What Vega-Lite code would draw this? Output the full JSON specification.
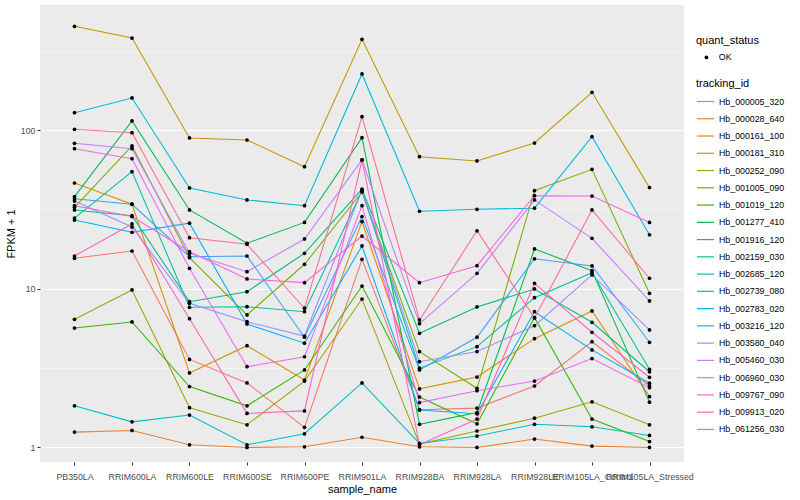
{
  "$schema": "https://vega.github.io/schema/vega-lite/v6.json",
  "width": 644,
  "height": 457,
  "autosize": {"type": "none"},
  "padding": {"left": 40, "top": 5, "right": 116, "bottom": 38},
  "background": "white",
  "config": {
    "font": "Liberation Sans",
    "view": {"fill": "#EBEBEB", "stroke": null},
    "axis": {
      "gridColor": "white", "gridWidth": 1.07, "domain": false,
      "tickColor": "#333333", "tickSize": 3, "tickWidth": 1,
      "labelColor": "#4D4D4D", "labelFontSize": 8.8, "labelFont": "Liberation Sans",
      "titleFontSize": 11, "titleFontWeight": "normal", "titleColor": "black", "titleFont": "Liberation Sans"
    },
    "legend": {
      "labelFontSize": 8.8, "titleFontSize": 11, "titleFontWeight": "normal",
      "labelColor": "black", "titleColor": "black", "labelFont": "Liberation Sans", "titleFont": "Liberation Sans"
    }
  },
  "data": {"values": [
    {"tracking_id":"Hb_000005_320","sample_name":"PB350LA","fpkm":15.57,"quant_status":"OK"},
    {"tracking_id":"Hb_000005_320","sample_name":"RRIM600LA","fpkm":17.30,"quant_status":"OK"},
    {"tracking_id":"Hb_000005_320","sample_name":"RRIM600LE","fpkm":3.59,"quant_status":"OK"},
    {"tracking_id":"Hb_000005_320","sample_name":"RRIM600SE","fpkm":2.55,"quant_status":"OK"},
    {"tracking_id":"Hb_000005_320","sample_name":"RRIM600PE","fpkm":1.34,"quant_status":"OK"},
    {"tracking_id":"Hb_000005_320","sample_name":"RRIM901LA","fpkm":15.34,"quant_status":"OK"},
    {"tracking_id":"Hb_000005_320","sample_name":"RRIM928BA","fpkm":1.73,"quant_status":"OK"},
    {"tracking_id":"Hb_000005_320","sample_name":"RRIM928LA","fpkm":1.77,"quant_status":"OK"},
    {"tracking_id":"Hb_000005_320","sample_name":"RRIM928LE","fpkm":2.44,"quant_status":"OK"},
    {"tracking_id":"Hb_000005_320","sample_name":"RRIM105LA_Control","fpkm":4.64,"quant_status":"OK"},
    {"tracking_id":"Hb_000005_320","sample_name":"RRIM105LA_Stressed","fpkm":2.44,"quant_status":"OK"},

    {"tracking_id":"Hb_000028_640","sample_name":"PB350LA","fpkm":1.25,"quant_status":"OK"},
    {"tracking_id":"Hb_000028_640","sample_name":"RRIM600LA","fpkm":1.28,"quant_status":"OK"},
    {"tracking_id":"Hb_000028_640","sample_name":"RRIM600LE","fpkm":1.04,"quant_status":"OK"},
    {"tracking_id":"Hb_000028_640","sample_name":"RRIM600SE","fpkm":1.0,"quant_status":"OK"},
    {"tracking_id":"Hb_000028_640","sample_name":"RRIM600PE","fpkm":1.01,"quant_status":"OK"},
    {"tracking_id":"Hb_000028_640","sample_name":"RRIM901LA","fpkm":1.16,"quant_status":"OK"},
    {"tracking_id":"Hb_000028_640","sample_name":"RRIM928BA","fpkm":1.01,"quant_status":"OK"},
    {"tracking_id":"Hb_000028_640","sample_name":"RRIM928LA","fpkm":1.0,"quant_status":"OK"},
    {"tracking_id":"Hb_000028_640","sample_name":"RRIM928LE","fpkm":1.13,"quant_status":"OK"},
    {"tracking_id":"Hb_000028_640","sample_name":"RRIM105LA_Control","fpkm":1.02,"quant_status":"OK"},
    {"tracking_id":"Hb_000028_640","sample_name":"RRIM105LA_Stressed","fpkm":1.0,"quant_status":"OK"},

    {"tracking_id":"Hb_000161_100","sample_name":"PB350LA","fpkm":46.4,"quant_status":"OK"},
    {"tracking_id":"Hb_000161_100","sample_name":"RRIM600LA","fpkm":34.1,"quant_status":"OK"},
    {"tracking_id":"Hb_000161_100","sample_name":"RRIM600LE","fpkm":2.95,"quant_status":"OK"},
    {"tracking_id":"Hb_000161_100","sample_name":"RRIM600SE","fpkm":4.38,"quant_status":"OK"},
    {"tracking_id":"Hb_000161_100","sample_name":"RRIM600PE","fpkm":2.66,"quant_status":"OK"},
    {"tracking_id":"Hb_000161_100","sample_name":"RRIM901LA","fpkm":26.5,"quant_status":"OK"},
    {"tracking_id":"Hb_000161_100","sample_name":"RRIM928BA","fpkm":2.34,"quant_status":"OK"},
    {"tracking_id":"Hb_000161_100","sample_name":"RRIM928LA","fpkm":2.78,"quant_status":"OK"},
    {"tracking_id":"Hb_000161_100","sample_name":"RRIM928LE","fpkm":4.85,"quant_status":"OK"},
    {"tracking_id":"Hb_000161_100","sample_name":"RRIM105LA_Control","fpkm":7.25,"quant_status":"OK"},
    {"tracking_id":"Hb_000161_100","sample_name":"RRIM105LA_Stressed","fpkm":2.09,"quant_status":"OK"},

    {"tracking_id":"Hb_000181_310","sample_name":"PB350LA","fpkm":451,"quant_status":"OK"},
    {"tracking_id":"Hb_000181_310","sample_name":"RRIM600LA","fpkm":380,"quant_status":"OK"},
    {"tracking_id":"Hb_000181_310","sample_name":"RRIM600LE","fpkm":89.2,"quant_status":"OK"},
    {"tracking_id":"Hb_000181_310","sample_name":"RRIM600SE","fpkm":86.6,"quant_status":"OK"},
    {"tracking_id":"Hb_000181_310","sample_name":"RRIM600PE","fpkm":58.8,"quant_status":"OK"},
    {"tracking_id":"Hb_000181_310","sample_name":"RRIM901LA","fpkm":373,"quant_status":"OK"},
    {"tracking_id":"Hb_000181_310","sample_name":"RRIM928BA","fpkm":68.0,"quant_status":"OK"},
    {"tracking_id":"Hb_000181_310","sample_name":"RRIM928LA","fpkm":63.9,"quant_status":"OK"},
    {"tracking_id":"Hb_000181_310","sample_name":"RRIM928LE","fpkm":82.9,"quant_status":"OK"},
    {"tracking_id":"Hb_000181_310","sample_name":"RRIM105LA_Control","fpkm":173,"quant_status":"OK"},
    {"tracking_id":"Hb_000181_310","sample_name":"RRIM105LA_Stressed","fpkm":43.4,"quant_status":"OK"},

    {"tracking_id":"Hb_000252_090","sample_name":"PB350LA","fpkm":6.42,"quant_status":"OK"},
    {"tracking_id":"Hb_000252_090","sample_name":"RRIM600LA","fpkm":9.83,"quant_status":"OK"},
    {"tracking_id":"Hb_000252_090","sample_name":"RRIM600LE","fpkm":1.78,"quant_status":"OK"},
    {"tracking_id":"Hb_000252_090","sample_name":"RRIM600SE","fpkm":1.39,"quant_status":"OK"},
    {"tracking_id":"Hb_000252_090","sample_name":"RRIM600PE","fpkm":2.62,"quant_status":"OK"},
    {"tracking_id":"Hb_000252_090","sample_name":"RRIM901LA","fpkm":8.62,"quant_status":"OK"},
    {"tracking_id":"Hb_000252_090","sample_name":"RRIM928BA","fpkm":1.05,"quant_status":"OK"},
    {"tracking_id":"Hb_000252_090","sample_name":"RRIM928LA","fpkm":1.27,"quant_status":"OK"},
    {"tracking_id":"Hb_000252_090","sample_name":"RRIM928LE","fpkm":1.53,"quant_status":"OK"},
    {"tracking_id":"Hb_000252_090","sample_name":"RRIM105LA_Control","fpkm":1.94,"quant_status":"OK"},
    {"tracking_id":"Hb_000252_090","sample_name":"RRIM105LA_Stressed","fpkm":1.39,"quant_status":"OK"},

    {"tracking_id":"Hb_001005_090","sample_name":"PB350LA","fpkm":32.6,"quant_status":"OK"},
    {"tracking_id":"Hb_001005_090","sample_name":"RRIM600LA","fpkm":79.4,"quant_status":"OK"},
    {"tracking_id":"Hb_001005_090","sample_name":"RRIM600LE","fpkm":15.7,"quant_status":"OK"},
    {"tracking_id":"Hb_001005_090","sample_name":"RRIM600SE","fpkm":6.84,"quant_status":"OK"},
    {"tracking_id":"Hb_001005_090","sample_name":"RRIM600PE","fpkm":14.27,"quant_status":"OK"},
    {"tracking_id":"Hb_001005_090","sample_name":"RRIM901LA","fpkm":40.7,"quant_status":"OK"},
    {"tracking_id":"Hb_001005_090","sample_name":"RRIM928BA","fpkm":4.02,"quant_status":"OK"},
    {"tracking_id":"Hb_001005_090","sample_name":"RRIM928LA","fpkm":2.36,"quant_status":"OK"},
    {"tracking_id":"Hb_001005_090","sample_name":"RRIM928LE","fpkm":41.5,"quant_status":"OK"},
    {"tracking_id":"Hb_001005_090","sample_name":"RRIM105LA_Control","fpkm":56.6,"quant_status":"OK"},
    {"tracking_id":"Hb_001005_090","sample_name":"RRIM105LA_Stressed","fpkm":9.37,"quant_status":"OK"},

    {"tracking_id":"Hb_001019_120","sample_name":"PB350LA","fpkm":5.66,"quant_status":"OK"},
    {"tracking_id":"Hb_001019_120","sample_name":"RRIM600LA","fpkm":6.18,"quant_status":"OK"},
    {"tracking_id":"Hb_001019_120","sample_name":"RRIM600LE","fpkm":2.42,"quant_status":"OK"},
    {"tracking_id":"Hb_001019_120","sample_name":"RRIM600SE","fpkm":1.83,"quant_status":"OK"},
    {"tracking_id":"Hb_001019_120","sample_name":"RRIM600PE","fpkm":3.08,"quant_status":"OK"},
    {"tracking_id":"Hb_001019_120","sample_name":"RRIM901LA","fpkm":10.41,"quant_status":"OK"},
    {"tracking_id":"Hb_001019_120","sample_name":"RRIM928BA","fpkm":2.08,"quant_status":"OK"},
    {"tracking_id":"Hb_001019_120","sample_name":"RRIM928LA","fpkm":1.41,"quant_status":"OK"},
    {"tracking_id":"Hb_001019_120","sample_name":"RRIM928LE","fpkm":6.58,"quant_status":"OK"},
    {"tracking_id":"Hb_001019_120","sample_name":"RRIM105LA_Control","fpkm":1.51,"quant_status":"OK"},
    {"tracking_id":"Hb_001019_120","sample_name":"RRIM105LA_Stressed","fpkm":1.09,"quant_status":"OK"},

    {"tracking_id":"Hb_001277_410","sample_name":"PB350LA","fpkm":38.1,"quant_status":"OK"},
    {"tracking_id":"Hb_001277_410","sample_name":"RRIM600LA","fpkm":114.1,"quant_status":"OK"},
    {"tracking_id":"Hb_001277_410","sample_name":"RRIM600LE","fpkm":31.4,"quant_status":"OK"},
    {"tracking_id":"Hb_001277_410","sample_name":"RRIM600SE","fpkm":19.35,"quant_status":"OK"},
    {"tracking_id":"Hb_001277_410","sample_name":"RRIM600PE","fpkm":26.2,"quant_status":"OK"},
    {"tracking_id":"Hb_001277_410","sample_name":"RRIM901LA","fpkm":89.6,"quant_status":"OK"},
    {"tracking_id":"Hb_001277_410","sample_name":"RRIM928BA","fpkm":1.40,"quant_status":"OK"},
    {"tracking_id":"Hb_001277_410","sample_name":"RRIM928LA","fpkm":1.66,"quant_status":"OK"},
    {"tracking_id":"Hb_001277_410","sample_name":"RRIM928LE","fpkm":17.82,"quant_status":"OK"},
    {"tracking_id":"Hb_001277_410","sample_name":"RRIM105LA_Control","fpkm":13.01,"quant_status":"OK"},
    {"tracking_id":"Hb_001277_410","sample_name":"RRIM105LA_Stressed","fpkm":1.93,"quant_status":"OK"},

    {"tracking_id":"Hb_001916_120","sample_name":"PB350LA","fpkm":31.4,"quant_status":"OK"},
    {"tracking_id":"Hb_001916_120","sample_name":"RRIM600LA","fpkm":28.9,"quant_status":"OK"},
    {"tracking_id":"Hb_001916_120","sample_name":"RRIM600LE","fpkm":8.29,"quant_status":"OK"},
    {"tracking_id":"Hb_001916_120","sample_name":"RRIM600SE","fpkm":9.59,"quant_status":"OK"},
    {"tracking_id":"Hb_001916_120","sample_name":"RRIM600PE","fpkm":16.74,"quant_status":"OK"},
    {"tracking_id":"Hb_001916_120","sample_name":"RRIM901LA","fpkm":42.5,"quant_status":"OK"},
    {"tracking_id":"Hb_001916_120","sample_name":"RRIM928BA","fpkm":5.24,"quant_status":"OK"},
    {"tracking_id":"Hb_001916_120","sample_name":"RRIM928LA","fpkm":7.68,"quant_status":"OK"},
    {"tracking_id":"Hb_001916_120","sample_name":"RRIM928LE","fpkm":9.97,"quant_status":"OK"},
    {"tracking_id":"Hb_001916_120","sample_name":"RRIM105LA_Control","fpkm":6.15,"quant_status":"OK"},
    {"tracking_id":"Hb_001916_120","sample_name":"RRIM105LA_Stressed","fpkm":3.00,"quant_status":"OK"},

    {"tracking_id":"Hb_002159_030","sample_name":"PB350LA","fpkm":27.9,"quant_status":"OK"},
    {"tracking_id":"Hb_002159_030","sample_name":"RRIM600LA","fpkm":54.7,"quant_status":"OK"},
    {"tracking_id":"Hb_002159_030","sample_name":"RRIM600LE","fpkm":7.64,"quant_status":"OK"},
    {"tracking_id":"Hb_002159_030","sample_name":"RRIM600SE","fpkm":7.71,"quant_status":"OK"},
    {"tracking_id":"Hb_002159_030","sample_name":"RRIM600PE","fpkm":7.17,"quant_status":"OK"},
    {"tracking_id":"Hb_002159_030","sample_name":"RRIM901LA","fpkm":41.3,"quant_status":"OK"},
    {"tracking_id":"Hb_002159_030","sample_name":"RRIM928BA","fpkm":3.16,"quant_status":"OK"},
    {"tracking_id":"Hb_002159_030","sample_name":"RRIM928LA","fpkm":4.32,"quant_status":"OK"},
    {"tracking_id":"Hb_002159_030","sample_name":"RRIM928LE","fpkm":8.79,"quant_status":"OK"},
    {"tracking_id":"Hb_002159_030","sample_name":"RRIM105LA_Control","fpkm":12.63,"quant_status":"OK"},
    {"tracking_id":"Hb_002159_030","sample_name":"RRIM105LA_Stressed","fpkm":3.11,"quant_status":"OK"},

    {"tracking_id":"Hb_002685_120","sample_name":"PB350LA","fpkm":1.83,"quant_status":"OK"},
    {"tracking_id":"Hb_002685_120","sample_name":"RRIM600LA","fpkm":1.45,"quant_status":"OK"},
    {"tracking_id":"Hb_002685_120","sample_name":"RRIM600LE","fpkm":1.60,"quant_status":"OK"},
    {"tracking_id":"Hb_002685_120","sample_name":"RRIM600SE","fpkm":1.04,"quant_status":"OK"},
    {"tracking_id":"Hb_002685_120","sample_name":"RRIM600PE","fpkm":1.22,"quant_status":"OK"},
    {"tracking_id":"Hb_002685_120","sample_name":"RRIM901LA","fpkm":2.55,"quant_status":"OK"},
    {"tracking_id":"Hb_002685_120","sample_name":"RRIM928BA","fpkm":1.06,"quant_status":"OK"},
    {"tracking_id":"Hb_002685_120","sample_name":"RRIM928LA","fpkm":1.18,"quant_status":"OK"},
    {"tracking_id":"Hb_002685_120","sample_name":"RRIM928LE","fpkm":1.40,"quant_status":"OK"},
    {"tracking_id":"Hb_002685_120","sample_name":"RRIM105LA_Control","fpkm":1.35,"quant_status":"OK"},
    {"tracking_id":"Hb_002685_120","sample_name":"RRIM105LA_Stressed","fpkm":1.19,"quant_status":"OK"},

    {"tracking_id":"Hb_002739_080","sample_name":"PB350LA","fpkm":128.7,"quant_status":"OK"},
    {"tracking_id":"Hb_002739_080","sample_name":"RRIM600LA","fpkm":159.3,"quant_status":"OK"},
    {"tracking_id":"Hb_002739_080","sample_name":"RRIM600LE","fpkm":43.2,"quant_status":"OK"},
    {"tracking_id":"Hb_002739_080","sample_name":"RRIM600SE","fpkm":36.3,"quant_status":"OK"},
    {"tracking_id":"Hb_002739_080","sample_name":"RRIM600PE","fpkm":33.4,"quant_status":"OK"},
    {"tracking_id":"Hb_002739_080","sample_name":"RRIM901LA","fpkm":225.7,"quant_status":"OK"},
    {"tracking_id":"Hb_002739_080","sample_name":"RRIM928BA","fpkm":30.8,"quant_status":"OK"},
    {"tracking_id":"Hb_002739_080","sample_name":"RRIM928LA","fpkm":31.7,"quant_status":"OK"},
    {"tracking_id":"Hb_002739_080","sample_name":"RRIM928LE","fpkm":32.2,"quant_status":"OK"},
    {"tracking_id":"Hb_002739_080","sample_name":"RRIM105LA_Control","fpkm":90.9,"quant_status":"OK"},
    {"tracking_id":"Hb_002739_080","sample_name":"RRIM105LA_Stressed","fpkm":21.9,"quant_status":"OK"},

    {"tracking_id":"Hb_002783_020","sample_name":"PB350LA","fpkm":27.1,"quant_status":"OK"},
    {"tracking_id":"Hb_002783_020","sample_name":"RRIM600LA","fpkm":22.7,"quant_status":"OK"},
    {"tracking_id":"Hb_002783_020","sample_name":"RRIM600LE","fpkm":25.9,"quant_status":"OK"},
    {"tracking_id":"Hb_002783_020","sample_name":"RRIM600SE","fpkm":6.00,"quant_status":"OK"},
    {"tracking_id":"Hb_002783_020","sample_name":"RRIM600PE","fpkm":4.54,"quant_status":"OK"},
    {"tracking_id":"Hb_002783_020","sample_name":"RRIM901LA","fpkm":18.61,"quant_status":"OK"},
    {"tracking_id":"Hb_002783_020","sample_name":"RRIM928BA","fpkm":1.72,"quant_status":"OK"},
    {"tracking_id":"Hb_002783_020","sample_name":"RRIM928LA","fpkm":1.63,"quant_status":"OK"},
    {"tracking_id":"Hb_002783_020","sample_name":"RRIM928LE","fpkm":7.17,"quant_status":"OK"},
    {"tracking_id":"Hb_002783_020","sample_name":"RRIM105LA_Control","fpkm":4.12,"quant_status":"OK"},
    {"tracking_id":"Hb_002783_020","sample_name":"RRIM105LA_Stressed","fpkm":2.54,"quant_status":"OK"},

    {"tracking_id":"Hb_003216_120","sample_name":"PB350LA","fpkm":36.9,"quant_status":"OK"},
    {"tracking_id":"Hb_003216_120","sample_name":"RRIM600LA","fpkm":34.1,"quant_status":"OK"},
    {"tracking_id":"Hb_003216_120","sample_name":"RRIM600LE","fpkm":15.93,"quant_status":"OK"},
    {"tracking_id":"Hb_003216_120","sample_name":"RRIM600SE","fpkm":16.09,"quant_status":"OK"},
    {"tracking_id":"Hb_003216_120","sample_name":"RRIM600PE","fpkm":4.95,"quant_status":"OK"},
    {"tracking_id":"Hb_003216_120","sample_name":"RRIM901LA","fpkm":28.5,"quant_status":"OK"},
    {"tracking_id":"Hb_003216_120","sample_name":"RRIM928BA","fpkm":3.08,"quant_status":"OK"},
    {"tracking_id":"Hb_003216_120","sample_name":"RRIM928LA","fpkm":4.95,"quant_status":"OK"},
    {"tracking_id":"Hb_003216_120","sample_name":"RRIM928LE","fpkm":15.45,"quant_status":"OK"},
    {"tracking_id":"Hb_003216_120","sample_name":"RRIM105LA_Control","fpkm":13.92,"quant_status":"OK"},
    {"tracking_id":"Hb_003216_120","sample_name":"RRIM105LA_Stressed","fpkm":4.60,"quant_status":"OK"},

    {"tracking_id":"Hb_003580_040","sample_name":"PB350LA","fpkm":35.7,"quant_status":"OK"},
    {"tracking_id":"Hb_003580_040","sample_name":"RRIM600LA","fpkm":24.5,"quant_status":"OK"},
    {"tracking_id":"Hb_003580_040","sample_name":"RRIM600LE","fpkm":8.10,"quant_status":"OK"},
    {"tracking_id":"Hb_003580_040","sample_name":"RRIM600SE","fpkm":6.20,"quant_status":"OK"},
    {"tracking_id":"Hb_003580_040","sample_name":"RRIM600PE","fpkm":5.04,"quant_status":"OK"},
    {"tracking_id":"Hb_003580_040","sample_name":"RRIM901LA","fpkm":41.9,"quant_status":"OK"},
    {"tracking_id":"Hb_003580_040","sample_name":"RRIM928BA","fpkm":3.47,"quant_status":"OK"},
    {"tracking_id":"Hb_003580_040","sample_name":"RRIM928LA","fpkm":4.02,"quant_status":"OK"},
    {"tracking_id":"Hb_003580_040","sample_name":"RRIM928LE","fpkm":5.85,"quant_status":"OK"},
    {"tracking_id":"Hb_003580_040","sample_name":"RRIM105LA_Control","fpkm":12.22,"quant_status":"OK"},
    {"tracking_id":"Hb_003580_040","sample_name":"RRIM105LA_Stressed","fpkm":5.50,"quant_status":"OK"},

    {"tracking_id":"Hb_005460_030","sample_name":"PB350LA","fpkm":82.6,"quant_status":"OK"},
    {"tracking_id":"Hb_005460_030","sample_name":"RRIM600LA","fpkm":76.3,"quant_status":"OK"},
    {"tracking_id":"Hb_005460_030","sample_name":"RRIM600LE","fpkm":16.74,"quant_status":"OK"},
    {"tracking_id":"Hb_005460_030","sample_name":"RRIM600SE","fpkm":12.82,"quant_status":"OK"},
    {"tracking_id":"Hb_005460_030","sample_name":"RRIM600PE","fpkm":20.6,"quant_status":"OK"},
    {"tracking_id":"Hb_005460_030","sample_name":"RRIM901LA","fpkm":64.8,"quant_status":"OK"},
    {"tracking_id":"Hb_005460_030","sample_name":"RRIM928BA","fpkm":6.03,"quant_status":"OK"},
    {"tracking_id":"Hb_005460_030","sample_name":"RRIM928LA","fpkm":12.52,"quant_status":"OK"},
    {"tracking_id":"Hb_005460_030","sample_name":"RRIM928LE","fpkm":36.3,"quant_status":"OK"},
    {"tracking_id":"Hb_005460_030","sample_name":"RRIM105LA_Control","fpkm":20.8,"quant_status":"OK"},
    {"tracking_id":"Hb_005460_030","sample_name":"RRIM105LA_Stressed","fpkm":8.38,"quant_status":"OK"},

    {"tracking_id":"Hb_006960_030","sample_name":"PB350LA","fpkm":76.3,"quant_status":"OK"},
    {"tracking_id":"Hb_006960_030","sample_name":"RRIM600LA","fpkm":66.0,"quant_status":"OK"},
    {"tracking_id":"Hb_006960_030","sample_name":"RRIM600LE","fpkm":13.46,"quant_status":"OK"},
    {"tracking_id":"Hb_006960_030","sample_name":"RRIM600SE","fpkm":3.23,"quant_status":"OK"},
    {"tracking_id":"Hb_006960_030","sample_name":"RRIM600PE","fpkm":3.73,"quant_status":"OK"},
    {"tracking_id":"Hb_006960_030","sample_name":"RRIM901LA","fpkm":33.4,"quant_status":"OK"},
    {"tracking_id":"Hb_006960_030","sample_name":"RRIM928BA","fpkm":1.92,"quant_status":"OK"},
    {"tracking_id":"Hb_006960_030","sample_name":"RRIM928LA","fpkm":2.28,"quant_status":"OK"},
    {"tracking_id":"Hb_006960_030","sample_name":"RRIM928LE","fpkm":2.62,"quant_status":"OK"},
    {"tracking_id":"Hb_006960_030","sample_name":"RRIM105LA_Control","fpkm":3.63,"quant_status":"OK"},
    {"tracking_id":"Hb_006960_030","sample_name":"RRIM105LA_Stressed","fpkm":2.38,"quant_status":"OK"},

    {"tracking_id":"Hb_009767_090","sample_name":"PB350LA","fpkm":33.4,"quant_status":"OK"},
    {"tracking_id":"Hb_009767_090","sample_name":"RRIM600LA","fpkm":28.5,"quant_status":"OK"},
    {"tracking_id":"Hb_009767_090","sample_name":"RRIM600LE","fpkm":17.13,"quant_status":"OK"},
    {"tracking_id":"Hb_009767_090","sample_name":"RRIM600SE","fpkm":11.53,"quant_status":"OK"},
    {"tracking_id":"Hb_009767_090","sample_name":"RRIM600PE","fpkm":10.93,"quant_status":"OK"},
    {"tracking_id":"Hb_009767_090","sample_name":"RRIM901LA","fpkm":21.5,"quant_status":"OK"},
    {"tracking_id":"Hb_009767_090","sample_name":"RRIM928BA","fpkm":10.93,"quant_status":"OK"},
    {"tracking_id":"Hb_009767_090","sample_name":"RRIM928LA","fpkm":13.98,"quant_status":"OK"},
    {"tracking_id":"Hb_009767_090","sample_name":"RRIM928LE","fpkm":38.6,"quant_status":"OK"},
    {"tracking_id":"Hb_009767_090","sample_name":"RRIM105LA_Control","fpkm":38.4,"quant_status":"OK"},
    {"tracking_id":"Hb_009767_090","sample_name":"RRIM105LA_Stressed","fpkm":26.2,"quant_status":"OK"},

    {"tracking_id":"Hb_009913_020","sample_name":"PB350LA","fpkm":16.09,"quant_status":"OK"},
    {"tracking_id":"Hb_009913_020","sample_name":"RRIM600LA","fpkm":25.6,"quant_status":"OK"},
    {"tracking_id":"Hb_009913_020","sample_name":"RRIM600LE","fpkm":6.48,"quant_status":"OK"},
    {"tracking_id":"Hb_009913_020","sample_name":"RRIM600SE","fpkm":1.64,"quant_status":"OK"},
    {"tracking_id":"Hb_009913_020","sample_name":"RRIM600PE","fpkm":1.70,"quant_status":"OK"},
    {"tracking_id":"Hb_009913_020","sample_name":"RRIM901LA","fpkm":64.8,"quant_status":"OK"},
    {"tracking_id":"Hb_009913_020","sample_name":"RRIM928BA","fpkm":1.04,"quant_status":"OK"},
    {"tracking_id":"Hb_009913_020","sample_name":"RRIM928LA","fpkm":1.51,"quant_status":"OK"},
    {"tracking_id":"Hb_009913_020","sample_name":"RRIM928LE","fpkm":10.83,"quant_status":"OK"},
    {"tracking_id":"Hb_009913_020","sample_name":"RRIM105LA_Control","fpkm":5.32,"quant_status":"OK"},
    {"tracking_id":"Hb_009913_020","sample_name":"RRIM105LA_Stressed","fpkm":2.77,"quant_status":"OK"},

    {"tracking_id":"Hb_061256_030","sample_name":"PB350LA","fpkm":101.2,"quant_status":"OK"},
    {"tracking_id":"Hb_061256_030","sample_name":"RRIM600LA","fpkm":96.3,"quant_status":"OK"},
    {"tracking_id":"Hb_061256_030","sample_name":"RRIM600LE","fpkm":20.99,"quant_status":"OK"},
    {"tracking_id":"Hb_061256_030","sample_name":"RRIM600SE","fpkm":19.07,"quant_status":"OK"},
    {"tracking_id":"Hb_061256_030","sample_name":"RRIM600PE","fpkm":7.54,"quant_status":"OK"},
    {"tracking_id":"Hb_061256_030","sample_name":"RRIM901LA","fpkm":121.5,"quant_status":"OK"},
    {"tracking_id":"Hb_061256_030","sample_name":"RRIM928BA","fpkm":6.36,"quant_status":"OK"},
    {"tracking_id":"Hb_061256_030","sample_name":"RRIM928LA","fpkm":23.2,"quant_status":"OK"},
    {"tracking_id":"Hb_061256_030","sample_name":"RRIM928LE","fpkm":6.55,"quant_status":"OK"},
    {"tracking_id":"Hb_061256_030","sample_name":"RRIM105LA_Control","fpkm":31.4,"quant_status":"OK"},
    {"tracking_id":"Hb_061256_030","sample_name":"RRIM105LA_Stressed","fpkm":11.65,"quant_status":"OK"}
  ]},
  "layer": [
    {
      "mark": {"type": "line", "strokeWidth": 1.07},
      "encoding": {
        "x": {
          "field": "sample_name", "type": "nominal",
          "sort": ["PB350LA","RRIM600LA","RRIM600LE","RRIM600SE","RRIM600PE","RRIM901LA","RRIM928BA","RRIM928LA","RRIM928LE","RRIM105LA_Control","RRIM105LA_Stressed"],
          "scale": {"type": "point", "padding": 0.6},
          "axis": {"title": "sample_name", "labelAngle": 0, "labelOverlap": false, "labelPadding": 7, "titlePadding": 3, "labelFlush": false, "labelBound": false}
        },
        "y": {
          "field": "fpkm", "type": "quantitative",
          "scale": {"type": "log", "domain": [0.81, 614], "nice": false, "zero": false},
          "axis": {
            "title": "FPKM + 1",
            "values": [1, 3.1623, 10, 31.623, 100, 316.23],
            "format": "d",
            "labelExpr": "(datum.value == 1 || datum.value == 10 || datum.value == 100) ? datum.label : ''",
            "gridWidth": {"condition": {"test": "datum.value == 1 || datum.value == 10 || datum.value == 100", "value": 1.07}, "value": 0.53},
            "tickOpacity": {"condition": {"test": "datum.value == 1 || datum.value == 10 || datum.value == 100", "value": 1}, "value": 0},
            "labelPadding": 2, "titlePadding": 4
          }
        },
        "color": {
          "field": "tracking_id", "type": "nominal",
          "scale": {
            "domain": ["Hb_000005_320","Hb_000028_640","Hb_000161_100","Hb_000181_310","Hb_000252_090","Hb_001005_090","Hb_001019_120","Hb_001277_410","Hb_001916_120","Hb_002159_030","Hb_002685_120","Hb_002739_080","Hb_002783_020","Hb_003216_120","Hb_003580_040","Hb_005460_030","Hb_006960_030","Hb_009767_090","Hb_009913_020","Hb_061256_030"],
            "range": ["#F8766D","#EA8331","#D89000","#C09B00","#A3A500","#7CAE00","#39B600","#00BB4E","#00BF7D","#00C1A3","#00BFC4","#00BAE0","#00B0F6","#35A2FF","#9590FF","#C77CFF","#E76BF3","#FA62DB","#FF62BC","#FF6C91"]
          },
          "legend": {"title": "tracking_id", "orient": "none", "legendX": 656, "legendY": 73, "symbolType": "stroke", "symbolSize": 289, "symbolStrokeWidth": 1.2, "rowPadding": 2.26, "titlePadding": 3, "labelOffset": 4}
        },
        "order": {"value": null}
      }
    },
    {
      "mark": {"type": "point", "filled": true, "color": "black", "size": 14, "opacity": 1},
      "encoding": {
        "x": {
          "field": "sample_name", "type": "nominal",
          "sort": ["PB350LA","RRIM600LA","RRIM600LE","RRIM600SE","RRIM600PE","RRIM901LA","RRIM928BA","RRIM928LA","RRIM928LE","RRIM105LA_Control","RRIM105LA_Stressed"]
        },
        "y": {"field": "fpkm", "type": "quantitative"},
        "shape": {
          "field": "quant_status", "type": "nominal",
          "scale": {"range": ["circle"]},
          "legend": {"title": "quant_status", "orient": "none", "legendX": 656, "legendY": 30, "symbolSize": 14, "symbolFillColor": "black", "symbolStrokeColor": "black", "titlePadding": 7, "symbolOffset": 6, "labelOffset": 8}
        }
      }
    }
  ]
}
